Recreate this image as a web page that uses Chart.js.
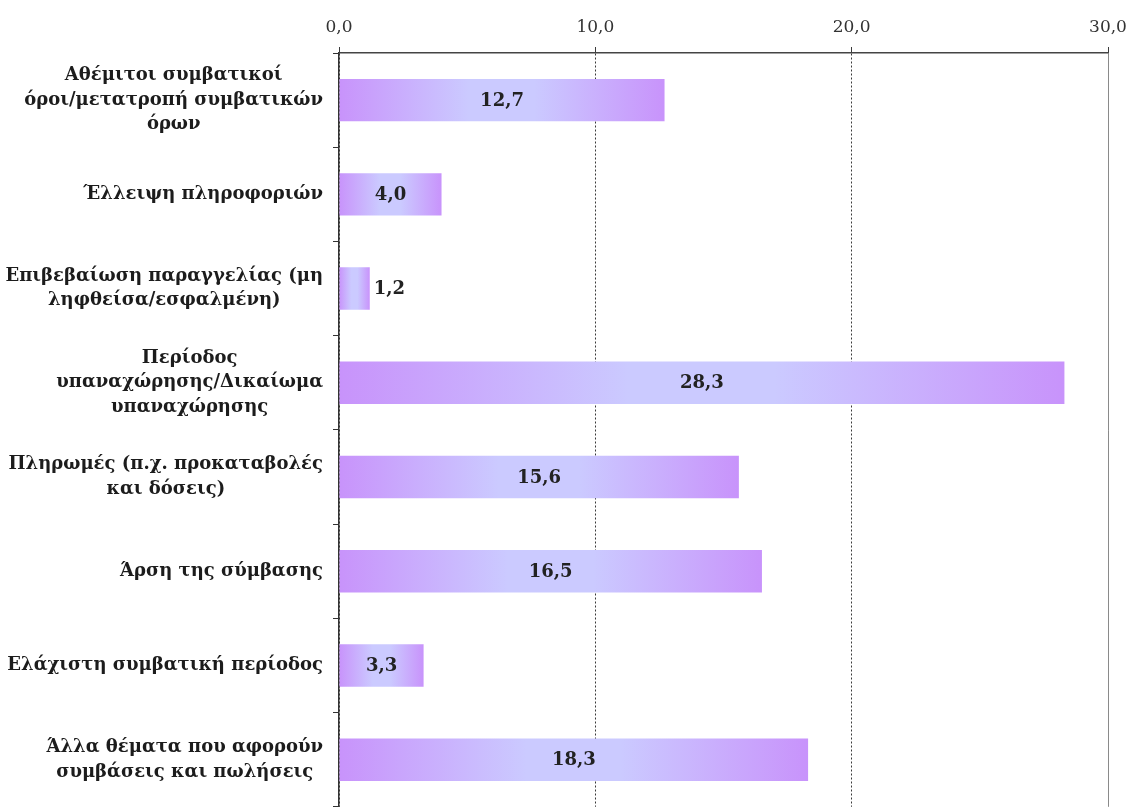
<!DOCTYPE html>
<html>
<head>
<meta charset="utf-8">
<script src="https://cdn.jsdelivr.net/npm/chart.js@4.4.0/dist/chart.umd.min.js"></script>
<style>
  html, body { margin: 0; padding: 0; background: #fff; overflow: hidden; }
  #wrap { width: 1137px; height: 817px; }
</style>
</head>
<body>
<div id="wrap"><canvas id="complaints"></canvas></div>
<script>
  // complaint categories (each entry = lines of the label)
  var categories = [
    ["Αθέμιτοι συμβατικοί", "όροι/μετατροπή συμβατικών", "όρων"],
    ["Έλλειψη πληροφοριών"],
    ["Επιβεβαίωση παραγγελίας (μη", "ληφθείσα/εσφαλμένη)"],
    ["Περίοδος", "υπαναχώρησης/Δικαίωμα", "υπαναχώρησης"],
    ["Πληρωμές (π.χ. προκαταβολές", "και δόσεις)"],
    ["Άρση της σύμβασης"],
    ["Ελάχιστη συμβατική περίοδος"],
    ["Άλλα θέματα που αφορούν", "συμβάσεις και πωλήσεις"]
  ];
  var shares = [12.7, 4.0, 1.2, 28.3, 15.6, 16.5, 3.3, 18.3];
  var tickValues = [0, 10, 20, 30];

  var serif = '"DejaVu Serif", "Liberation Serif", serif';

  function commaNumber(v) {
    return Number(v).toFixed(1).replace('.', ',');
  }

  // multi-line category names, lines centred on each other, block right-aligned to the axis
  var categoryLabels = {
    id: 'categoryLabels',
    afterDraw: function(chart) {
      var ctx = chart.ctx;
      var y = chart.scales.y;
      var lineH = 24.5;
      ctx.save();
      ctx.font = 'bold 18px ' + serif;
      ctx.fillStyle = '#1c1c1c';
      ctx.textAlign = 'center';
      ctx.textBaseline = 'middle';
      categories.forEach(function(lines, i) {
        var cy = y.getPixelForTick(i);
        var w = Math.max.apply(null, lines.map(function(l) { return ctx.measureText(l).width; }));
        var cx = y.right - 16 - w / 2;
        lines.forEach(function(l, k) {
          ctx.fillText(l, cx, cy + (k - (lines.length - 1) / 2) * lineH);
        });
      });
      ctx.restore();
    }
  };

  // value written on each bar (outside when the bar is too short)
  var valueLabels = {
    id: 'valueLabels',
    afterDatasetsDraw: function(chart) {
      var ctx = chart.ctx;
      var meta = chart.getDatasetMeta(0);
      ctx.save();
      ctx.font = 'bold 18px ' + serif;
      ctx.fillStyle = '#222';
      ctx.textAlign = 'center';
      ctx.textBaseline = 'middle';
      meta.data.forEach(function(bar, i) {
        var text = commaNumber(shares[i]);
        var w = ctx.measureText(text).width;
        var x = (bar.x + bar.base) / 2;
        if (bar.x - bar.base < w + 12) x = bar.x + 4 + w / 2;
        ctx.fillText(text, x, bar.y + 1);
      });
      ctx.restore();
    }
  };

  function barGradient(context) {
    var chart = context.chart;
    if (!chart.chartArea || context.type !== 'data') return '#c995fb';
    var x = chart.scales.x;
    var x0 = x.getPixelForValue(0);
    var x1 = x.getPixelForValue(shares[context.dataIndex]);
    var g = chart.ctx.createLinearGradient(x0, 0, x1, 0);
    g.addColorStop(0, '#c893fb');
    g.addColorStop(0.4, '#cbcaff');
    g.addColorStop(0.6, '#cbcaff');
    g.addColorStop(1, '#c893fb');
    return g;
  }

  var complaintsCanvas = document.getElementById('complaints');
  var complaints = new Chart(complaintsCanvas, {
    type: 'bar',
    data: {
      labels: categories,
      datasets: [{
        data: shares,
        backgroundColor: barGradient,
        borderWidth: 0,
        barPercentage: 0.45,
        categoryPercentage: 1
      }]
    },
    options: {
      indexAxis: 'y',
      responsive: true,
      maintainAspectRatio: false,
      animation: false,
      layout: { padding: { left: 0, right: 29, top: 0, bottom: 0 } },
      plugins: {
        legend: { display: false },
        tooltip: { enabled: false }
      },
      scales: {
        x: {
          position: 'top',
          min: 0,
          max: 30,
          afterBuildTicks: function(s) {
            s.ticks = tickValues.map(function(v) { return { value: v }; });
          },
          afterFit: function(s) { s.height = 53; },
          ticks: {
            callback: function(v) { return commaNumber(v); },
            font: { family: serif, size: 17 },
            color: '#333',
            padding: 9,
            maxRotation: 0
          },
          grid: {
            color: function(c) { return c.tick && c.tick.value === 30 ? '#8a8a8a' : '#3a3a3a'; },
            tickColor: '#3a3a3a',
            lineWidth: 1,
            tickLength: 6
          },
          border: {
            display: true,
            color: '#444',
            width: 1.5,
            dash: function(c) { return c.tick && c.tick.value === 30 ? [] : [2, 2]; }
          }
        },
        y: {
          offset: true,
          afterFit: function(s) { s.width = 339; },
          ticks: { callback: function() { return ''; } },
          grid: {
            offset: true,
            drawOnChartArea: false,
            tickLength: 6,
            color: '#333'
          },
          border: { color: '#333', width: 1.5 }
        }
      }
    },
    plugins: [categoryLabels, valueLabels]
  });
</script>
</body>
</html>
